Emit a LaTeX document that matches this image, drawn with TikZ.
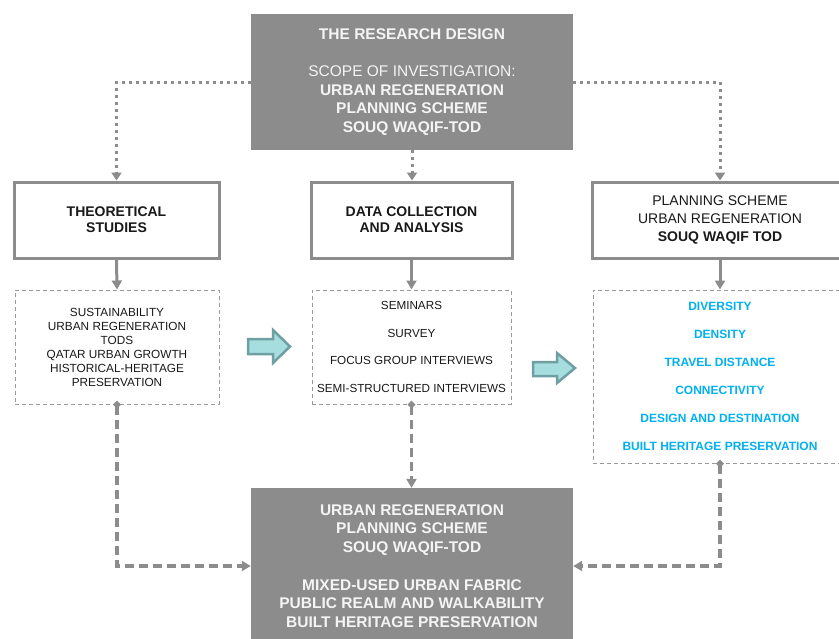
\documentclass[tikz,border=0pt]{standalone}
\usepackage{fontspec}
\setmainfont{Liberation Sans}
\usetikzlibrary{arrows.meta}
\definecolor{boxgray}{HTML}{8C8C8C}
\definecolor{linegray}{HTML}{8C8C8C}
\definecolor{dashgray}{HTML}{9A9A9A}
\definecolor{cyantext}{HTML}{00B0F0}
\definecolor{arrowfill}{HTML}{A6DEE0}
\definecolor{arrowedge}{HTML}{6E9FA3}
\definecolor{boxtext}{HTML}{F4F4F4}
\begin{document}
\begin{tikzpicture}[x=1pt,y=-1pt,
  graybox/.style={fill=boxgray, draw=none, text=boxtext, align=center, inner sep=0pt, minimum width=322pt},
  solidbox/.style={draw=linegray, line width=3pt, fill=white, align=center, inner sep=0pt, text=black!90},
  dashbox/.style={draw=dashgray, line width=1pt, dash pattern=on 4pt off 3pt, align=center, inner sep=0pt, text=black!90},
  dotarrow/.style={draw=linegray, line width=3pt, dash pattern=on 3pt off 4pt, -{Triangle[length=8pt,width=10pt]}},
  solidarrow/.style={draw=linegray, line width=3pt, -{Triangle[length=9pt,width=10pt]}},
  dasharrow/.style={draw=linegray, line width=3.5pt, dash pattern=on 9pt off 5pt, {Diamond[length=8pt,width=8pt]}-{Triangle[length=9pt,width=10pt]}, shorten <=-4pt},
  blockarrow/.style={fill=arrowfill, draw=arrowedge, line width=2.5pt, line join=miter}
]
\useasboundingbox (0,0) rectangle (839,638);

% top box
\node[graybox, minimum height=136pt, font=\fontsize{15.5}{18.5}\selectfont] (top) at (412,82)
  {\textbf{THE RESEARCH DESIGN}\\[18.5pt]
   SCOPE OF INVESTIGATION:\\
   \textbf{URBAN REGENERATION}\\
   \textbf{PLANNING SCHEME}\\
   \textbf{SOUQ WAQIF-TOD}};

% solid boxes
\node[solidbox, minimum width=205pt, minimum height=76pt, font=\bfseries\fontsize{14}{16}\selectfont] (ts) at (116.5,220)
  {THEORETICAL\\STUDIES};
\node[solidbox, minimum width=201pt, minimum height=76pt, font=\bfseries\fontsize{14}{16}\selectfont] (dc) at (411.5,220)
  {DATA COLLECTION\\AND ANALYSIS};
\node[solidbox, minimum width=256pt, minimum height=76pt, font=\fontsize{14}{18}\selectfont] (ps) at (720,220)
  {PLANNING SCHEME\\URBAN REGENERATION\\\textbf{SOUQ WAQIF TOD}};

% dashed boxes
\node[dashbox, minimum width=204pt, minimum height=114pt, font=\fontsize{11.8}{14}\selectfont] (tl) at (117,347)
  {SUSTAINABILITY\\URBAN REGENERATION\\TODS\\QATAR URBAN GROWTH\\HISTORICAL-HERITAGE\\PRESERVATION};
\node[dashbox, minimum width=199pt, minimum height=114pt, font=\fontsize{11.7}{27.7}\selectfont] (dl) at (411.5,347)
  {SEMINARS\\SURVEY\\FOCUS GROUP INTERVIEWS\\SEMI-STRUCTURED INTERVIEWS};
\node[dashbox, minimum width=254pt, minimum height=173pt, text=cyantext, font=\bfseries\fontsize{12}{28}\selectfont] (pl) at (720,376.5)
  {DIVERSITY\\DENSITY\\TRAVEL DISTANCE\\CONNECTIVITY\\DESIGN AND DESTINATION\\BUILT HERITAGE PRESERVATION};

% bottom box
\node[graybox, minimum height=156pt, font=\bfseries\fontsize{15.5}{18.7}\selectfont] (bot) at (412,566)
  {URBAN REGENERATION\\
   PLANNING SCHEME\\
   SOUQ WAQIF-TOD\\[18.7pt]
   MIXED-USED URBAN FABRIC\\
   PUBLIC REALM AND WALKABILITY\\
   BUILT HERITAGE PRESERVATION};

% dotted connectors
\draw[dotarrow] (top.west) -| (ts.north);
\draw[dotarrow] (top.east) -| (ps.north);
\draw[dotarrow] (top.south) -- (top.south |- dc.north);

% solid connectors
\draw[solidarrow] (ts.south) -- (tl.north);
\draw[solidarrow] (dc.south) -- (dc.south |- dl.north);
\draw[solidarrow] (ps.south) -- (pl.north);

% thick dashed connectors
\draw[dasharrow] (tl.south) |- (bot.west);
\draw[dasharrow] (dl.south) -- (dl.south |- bot.north);
\draw[dasharrow] (pl.south) |- (bot.east);

% block arrows
\draw[blockarrow] (248,339) -- (273,339) -- (273,330) -- (290,346.5) -- (273,363) -- (273,354) -- (248,354) -- cycle;
\draw[blockarrow] (533,362) -- (557,362) -- (557,353) -- (575,368) -- (557,383) -- (557,376) -- (533,376) -- cycle;
\end{tikzpicture}
\end{document}
